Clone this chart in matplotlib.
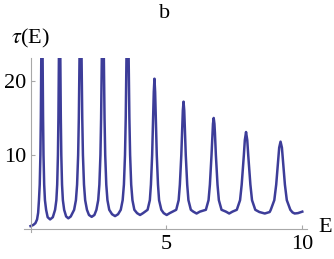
import matplotlib
matplotlib.use('Agg')
import matplotlib.pyplot as plt

# tau(E), peak by peak (valley, sides, top)
energy = [
    0.0, 0.1, 0.18, 0.24, 0.28, 0.31, 0.338, 0.363, 0.379, 0.393, 0.42,
    0.447, 0.461, 0.477, 0.502, 0.53, 0.573,
    0.63, 0.72, 0.82,
    0.903, 0.95, 0.981, 1.008, 1.026, 1.041, 1.07, 1.099, 1.114, 1.132, 1.159, 1.19, 1.237,
    1.31, 1.39, 1.48,
    1.604, 1.67, 1.713, 1.752, 1.777, 1.798, 1.84, 1.882, 1.903, 1.928, 1.967, 2.01, 2.076,
    2.15, 2.25, 2.35,
    2.424, 2.49, 2.533, 2.572, 2.597, 2.618, 2.66, 2.702, 2.723, 2.748, 2.787, 2.83, 2.896,
    3.0, 3.11, 3.22,
    3.32, 3.39, 3.436, 3.476, 3.503, 3.526, 3.57, 3.614, 3.637, 3.664, 3.704, 3.75, 3.82,
    3.92, 4.03, 4.14,
    4.307, 4.39, 4.43, 4.475, 4.51, 4.535, 4.56, 4.585, 4.61, 4.645, 4.69, 4.73, 4.813,
    4.90, 5.01, 5.12,
    5.361, 5.45, 5.495, 5.548, 5.584, 5.604, 5.63, 5.656, 5.676, 5.712, 5.765, 5.81, 5.899,
    5.99, 6.11, 6.23,
    6.452, 6.55, 6.60, 6.66, 6.695, 6.713, 6.74, 6.767, 6.785, 6.82, 6.88, 6.93, 7.028,
    7.19, 7.31, 7.43,
    7.59, 7.71, 7.77, 7.85, 7.885, 7.93, 7.975, 8.01, 8.09, 8.15, 8.27,
    8.42, 8.62, 8.80,
    8.84, 8.97, 9.04, 9.105, 9.15, 9.20, 9.25, 9.295, 9.36, 9.43, 9.56,
    9.64, 9.72, 9.84, 10.0,
]
tau = [
    0.4, 0.55, 0.8, 1.3, 2.2, 3.9, 6, 10, 15, 22, 35,
    22, 15, 10, 6, 3.9, 2.6,
    1.6, 1.3, 1.6,
    2.6, 3.9, 6, 10, 15, 22, 35, 22, 15, 10, 6, 3.9, 2.6,
    1.7, 1.45, 1.7,
    2.6, 3.9, 6, 10, 15, 22, 35, 22, 15, 10, 6, 3.9, 2.6,
    1.9, 1.65, 1.9,
    2.6, 3.9, 6, 10, 15, 22, 35, 22, 15, 10, 6, 3.9, 2.6,
    2.0, 1.75, 2.0,
    2.6, 3.9, 6, 10, 15, 22, 35, 22, 15, 10, 6, 3.9, 2.6,
    2.15, 1.9, 2.15,
    2.6, 3.9, 6, 10, 15, 18.5, 20.3, 18.5, 15, 10, 6, 3.9, 2.6,
    2.15, 1.9, 2.15,
    2.6, 3.9, 6, 10, 14, 16, 17.2, 16, 14, 10, 6, 3.9, 2.6,
    2.35, 2.1, 2.35,
    2.6, 3.9, 6, 10, 13, 14.2, 15.0, 14.2, 13, 10, 6, 3.9, 2.6,
    2.35, 2.1, 2.35,
    2.6, 3.9, 6, 10, 12, 13.1, 12, 10, 6, 3.9, 2.6,
    2.3, 2.1, 2.3,
    2.6, 3.9, 6, 9, 11, 11.8, 11, 9, 6, 3.9, 2.6,
    2.25, 2.1, 2.15, 2.35,
]
x_ticks = [5, 10]
y_ticks = [10, 20]

plt.rcParams['font.family'] = 'Liberation Serif'
plt.rcParams['mathtext.fontset'] = 'stix'

fig = plt.figure(figsize=(3.34, 2.59), dpi=100)
ax = fig.add_axes([0.0719, 0.1042, 0.847, 0.672])
ax.plot(energy, tau, color='#3d3d99', lw=1.8, solid_joinstyle='round')

ax.set_xlim(-0.24, 10.17)
ax.set_ylim(-0.4, 23.1)
for side in ['top', 'right']:
    ax.spines[side].set_visible(False)
for side in ['left', 'bottom']:
    ax.spines[side].set_position(('data', 0))
    ax.spines[side].set_color('#a8a8a8')
    ax.spines[side].set_linewidth(0.8)

ax.set_xticks(x_ticks)
ax.set_yticks(y_ticks)
ax.tick_params(direction='in', length=3, width=0.8, color='#a8a8a8', labelsize=16)
ax.tick_params(axis='x', pad=4)
ax.tick_params(axis='y', pad=3)

fig.text(0.494, 1 - 14 / 259, 'b', ha='center', va='center', fontsize=16)
fig.text(30 / 334, 1 - 38 / 259, r'$\tau$(E)', ha='center', va='center', fontsize=16)
fig.text(325 / 334, 1 - 227 / 259, 'E', ha='center', va='center', fontsize=16)

fig.savefig('out.png', dpi=100)
